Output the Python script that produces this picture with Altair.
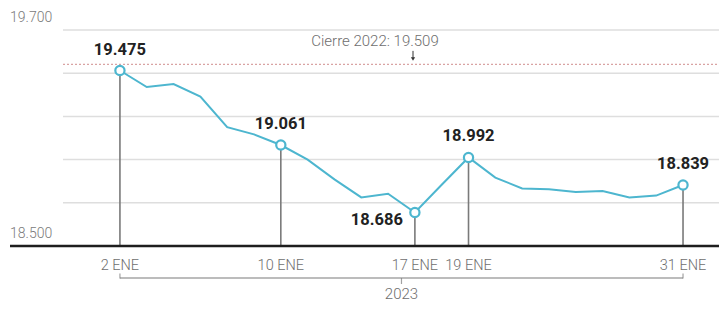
import altair as alt
import pandas as pd

# Trading-day index (0 = 2 ENE ... 21 = 31 ENE) and closing values
day_index = list(range(22))
values = [19.475, 19.383, 19.400, 19.330, 19.160, 19.120, 19.061, 18.980,
          18.870, 18.770, 18.790, 18.686, 18.840, 18.992, 18.880, 18.820,
          18.815, 18.800, 18.805, 18.770, 18.780, 18.839]

key_index = [0, 6, 11, 13, 21]
key_dates = ["2 ENE", "10 ENE", "17 ENE", "19 ENE", "31 ENE"]
key_values = [19.475, 19.061, 18.686, 18.992, 18.839]
key_labels = ["19.475", "19.061", "18.686", "18.992", "18.839"]

y_ticks = [19.7, 18.5]
y_tick_labels = ["19.700", "18.500"]
grid_values = [19.7, 19.46, 19.22, 18.98, 18.74]

close_2022 = 19.509
close_2022_label = "Cierre 2022: 19.509"
year_label = "2023"

W, H = 717, 216
FONT = "Roboto"
LINE_COLOR = "#4db6cf"
GREY_TXT = "#6e6e6e"

line_df = pd.DataFrame({"i": day_index, "v": values})
key_df = pd.DataFrame({"i": key_index, "date": key_dates, "v": key_values,
                       "label": key_labels, "base": 18.5})
ytick_df = pd.DataFrame({"v": y_ticks, "label": y_tick_labels})
grid_df = pd.DataFrame({"v": grid_values})
close_df = pd.DataFrame({"v": [close_2022], "label": [close_2022_label]})
bracket_df = pd.DataFrame({"i": [key_index[0]], "i2": [key_index[-1]],
                           "mid": [(key_index[0] + key_index[-1]) / 2],
                           "label": [year_label], "base": [18.5]})
ends_df = pd.DataFrame({"i": [key_index[0], key_index[-1]], "base": 18.5})

xs = alt.Scale(domain=[-4.1, 22.64], nice=False, zero=False)
ys = alt.Scale(domain=[18.5, 19.7], nice=False, zero=False)
X = lambda f: alt.X(f, type="quantitative", scale=xs, axis=None)
Y = lambda f: alt.Y(f, type="quantitative", scale=ys, axis=None)

grid = alt.Chart(grid_df).mark_rule(color="#dedede", strokeWidth=1.5).encode(
    y=Y("v"), x=alt.value(53), x2=alt.value(W))

close_line = alt.Chart(close_df).mark_rule(
    color="#d9a3a3", strokeWidth=1.2, strokeDash=[2, 2]).encode(
    y=Y("v"), x=alt.value(53), x2=alt.value(W))

close_text = alt.Chart(close_df).mark_text(
    font=FONT, fontSize=15, fontWeight=300, color=GREY_TXT, align="center",
    baseline="middle", dy=-23).encode(y=Y("v"), x=alt.value(365), text="label:N")

close_arrow = alt.Chart(close_df).transform_calculate(
    top="datum.v + 0.075", tip="datum.v + 0.03").mark_rule(
    color="#333", strokeWidth=1).encode(
    y=Y("top:Q"), y2="tip:Q", x=alt.value(403))
close_head = alt.Chart(close_df).transform_calculate(
    tip="datum.v + 0.03").mark_point(
    shape="triangle-down", filled=True, color="#333", size=18, opacity=1).encode(
    y=Y("tip:Q"), x=alt.value(403))

baseline = alt.Chart(key_df.head(1)).mark_rule(color="#1e1e1e", strokeWidth=2.5).encode(
    y=Y("base"), x=alt.value(0), x2=alt.value(W))

drops = alt.Chart(key_df).mark_rule(color="#7a7a7a", strokeWidth=1.6).encode(
    x=X("i"), y=Y("v"), y2="base")

line = alt.Chart(line_df).mark_line(color=LINE_COLOR, strokeWidth=2).encode(
    x=X("i"), y=Y("v"))

pts = alt.Chart(key_df).mark_point(
    shape="circle", filled=True, fill="white", stroke=LINE_COLOR,
    strokeWidth=2.2, size=85, opacity=1).encode(x=X("i"), y=Y("v"))

lab_above = alt.Chart(key_df).transform_filter("datum.i != 11").mark_text(
    font=FONT, fontSize=16.5, fontWeight="bold", color="#222", dy=-21,
    baseline="middle").encode(x=X("i"), y=Y("v"), text="label:N")
lab_below = alt.Chart(key_df).transform_filter("datum.i == 11").mark_text(
    font=FONT, fontSize=16.5, fontWeight="bold", color="#222", dx=-12, dy=7,
    align="right", baseline="middle").encode(x=X("i"), y=Y("v"), text="label:N")

x_labels = alt.Chart(key_df).mark_text(
    font=FONT, fontSize=14.5, fontWeight=300, color=GREY_TXT, dy=20,
    baseline="middle").encode(x=X("i"), y=Y("base"), text="date:N")

y_labels = alt.Chart(ytick_df).mark_text(
    font=FONT, fontSize=14, fontWeight=300, color="#7a7a7a", align="left",
    baseline="middle", dy=-12).encode(x=alt.value(0), y=Y("v"), text="label:N")

bracket = alt.Chart(bracket_df).mark_rule(color="#7a7a7a", strokeWidth=1.2, yOffset=32).encode(
    x=X("i"), x2="i2", y=Y("base"))
bracket_mid = alt.Chart(bracket_df).mark_tick(
    color="#7a7a7a", thickness=1.2, size=6, orient="vertical", yOffset=35).encode(
    x=X("mid"), y=Y("base"))
bracket_ends = alt.Chart(ends_df).mark_tick(
    color="#7a7a7a", thickness=1.2, size=5, orient="vertical", yOffset=30).encode(
    x=X("i"), y=Y("base"))
year = alt.Chart(bracket_df).mark_text(
    font=FONT, fontSize=15, fontWeight=300, color=GREY_TXT, dy=48,
    baseline="middle").encode(x=X("mid"), y=Y("base"), text="label:N")

chart = alt.layer(
    grid, close_line, close_text, close_arrow, close_head, drops, baseline,
    line, pts, lab_above, lab_below, x_labels, y_labels,
    bracket, bracket_mid, bracket_ends, year
).properties(
    width=W, height=H,
    autosize=alt.AutoSizeParams(type="none"),
    padding={"left": 2, "top": 22, "right": -8, "bottom": 57},
).configure_view(stroke=None)

chart.save("out.html", embed_options={"renderer": "svg", "actions": False})
